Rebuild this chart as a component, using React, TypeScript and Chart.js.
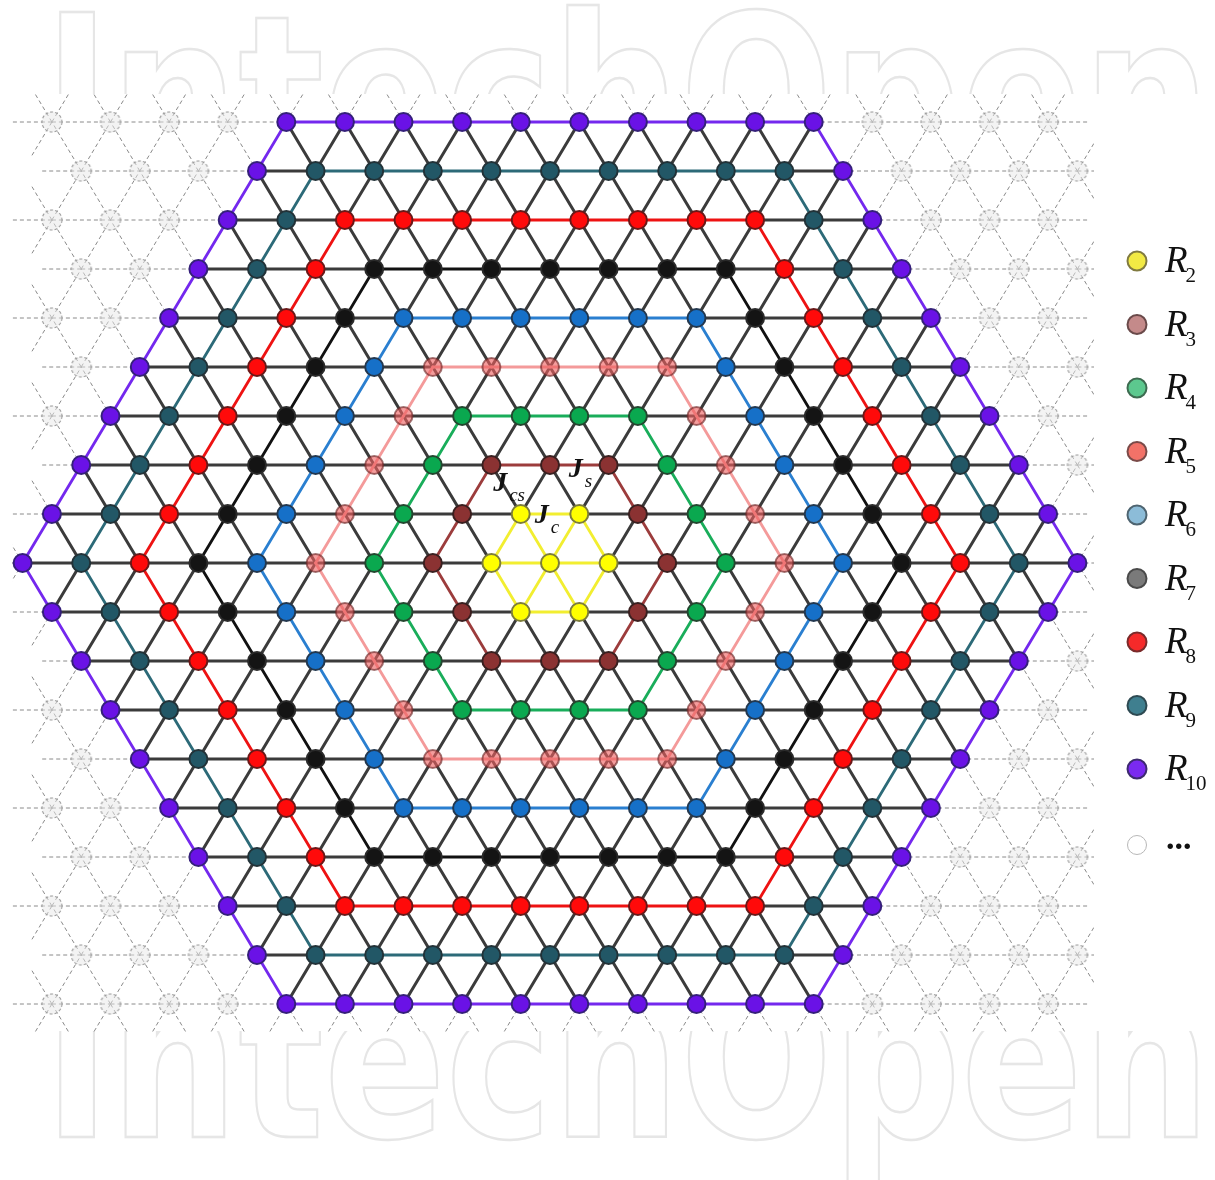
import React, { useEffect, useRef } from "react";
import { Chart, registerables } from "chart.js";

Chart.register(...registerables);

// ---- data ---------------------------------------------------------------
// rows of the triangular lattice (positive = up), centre row is 0
const rowIndices = [-9, -8, -7, -6, -5, -4, -3, -2, -1, 0, 1, 2, 3, 4, 5, 6, 7, 8, 9];
// hexagonal rings: R2 holds the centre node and hex-distance 1, R3 distance 2 ... R10 distance 9
const ringNames = ["R", "R", "R", "R", "R", "R", "R", "R", "R"];
const ringSubscripts = ["2", "3", "4", "5", "6", "7", "8", "9", "10"];
const ringDistances = [1, 2, 3, 4, 5, 6, 7, 8, 9];
const ringNodeColors = [
  "#ffff00", "#8b3232", "#0aa84f", "rgba(238,96,96,0.62)", "#1670c8",
  "#141414", "#ff0a0a", "#225766", "#6a12e6",
];
const ringNodeBorders = [
  "#7d7d3a", "#3a2020", "#23472f", "rgba(110,40,40,0.65)", "#23384f",
  "#2a2a2a", "#6a1818", "#223238", "#35207a",
];
const ringEdgeColors = [
  "#f2ee30", "#9c3c3c", "#19ad5a", "#f49a9a", "#2a7fd0",
  "#111111", "#ee1212", "#2c6a78", "#7428ee",
];
const legendFillColors = [
  "#f2ea44", "#c48a8a", "#5cc88e", "#f27268", "#8cbcd8",
  "#7a7a7a", "#f52a2a", "#3f7f8f", "#7a2af0",
];
const legendBorderColors = [
  "#807a40", "#6a4a4a", "#3d6b50", "#7a4a48", "#4e6470",
  "#4a4a4a", "#7a2a2a", "#2e4a52", "#3e2a70",
];
const outerRing = 9;
// horizontal extent (lattice units) of the grey background lattice
const backgroundLimits = [-8.6, 9.05];
// coupling labels: anchor in lattice units
const couplingLabels = [
  { main: "J", sub: "cs", x: -0.97, y: 1.47 },
  { main: "J", sub: "c", x: -0.26, y: 0.82 },
  { main: "J", sub: "s", x: 0.32, y: 1.76 },
];
const watermarkText = "IntechOpen";

// ---- lattice construction ---------------------------------------------
type Node = { i: number; j: number; u: number; dist: number; inHex: boolean };

function buildNodes(): Map<string, Node> {
  const map = new Map<string, Node>();
  for (const j of rowIndices) {
    for (let i = -25; i <= 25; i++) {
      const u = i + j / 2;
      const dist = (Math.abs(i) + Math.abs(j) + Math.abs(i + j)) / 2;
      const inHex = dist <= outerRing;
      const inBg = u >= backgroundLimits[0] && u <= backgroundLimits[1];
      if (inHex || inBg) map.set(i + "," + j, { i, j, u, dist, inHex });
    }
  }
  return map;
}

const groupOf = (n: Node) => Math.max(n.dist, 1);
// even index = "forward" direction (full edges drawn once), odd = its opposite
const DIRS = [
  [1, 0], [-1, 0], [0, 1], [0, -1], [-1, 1], [1, -1],
];

export default function App() {
  const ref = useRef<HTMLCanvasElement>(null);

  useEffect(() => {
    const canvas = ref.current;
    if (!canvas) return;
    const nodes = buildNodes();
    const list = Array.from(nodes.values());

    // grey dashed point style
    const greyImg = document.createElement("canvas");
    greyImg.width = 24;
    greyImg.height = 24;
    const g = greyImg.getContext("2d")!;
    g.fillStyle = "rgba(232,232,232,0.5)";
    g.beginPath();
    g.arc(12, 12, 10, 0, Math.PI * 2);
    g.fill();
    g.setLineDash([3, 2]);
    g.strokeStyle = "#9c9c9c";
    g.lineWidth = 1.1;
    g.stroke();

    const datasets: any[] = ringDistances.map((d, k) => ({
      label: ringNames[k] + ringSubscripts[k],
      data: list.filter((n) => n.inHex && groupOf(n) === d).map((n) => ({ x: n.u, y: n.j })),
      pointRadius: 9,
      pointHoverRadius: 9,
      pointBackgroundColor: ringNodeColors[k],
      pointBorderColor: ringNodeBorders[k],
      pointBorderWidth: 2,
      showLine: false,
      clip: false,
    }));
    datasets.push({
      label: "...",
      data: list.filter((n) => !n.inHex).map((n) => ({ x: n.u, y: n.j })),
      pointStyle: greyImg,
      pointRadius: 10,
      showLine: false,
      clip: false,
    });

    const latticePlugin = {
      id: "lattice",
      beforeDraw(chart: any) {
        const ctx = chart.ctx as CanvasRenderingContext2D;
        const W = chart.width;
        const H = chart.height;
        ctx.save();
        ctx.fillStyle = "#ffffff";
        ctx.fillRect(0, 0, W, H);
        // watermark
        ctx.font = "bold 220px 'DejaVu Sans'";
        ctx.textAlign = "left";
        ctx.textBaseline = "alphabetic";
        const m = ctx.measureText(watermarkText);
        const inkW = m.actualBoundingBoxLeft + m.actualBoundingBoxRight;
        const sx = (1197 - 60) / inkW;
        ctx.strokeStyle = "#e6e6e6";
        ctx.lineWidth = 2.5;
        for (const base of [172, 1137]) {
          ctx.save();
          ctx.translate(60, 0);
          ctx.scale(sx, 1);
          ctx.strokeText(watermarkText, m.actualBoundingBoxLeft, base);
          ctx.restore();
        }
        // figure band
        ctx.fillStyle = "#ffffff";
        ctx.fillRect(0, 94, W, 1031 - 94);
        ctx.restore();
      },
      beforeDatasetsDraw(chart: any) {
        const ctx = chart.ctx as CanvasRenderingContext2D;
        const xs = chart.scales.x;
        const ys = chart.scales.y;
        const px = (u: number) => xs.getPixelForValue(u);
        const py = (v: number) => ys.getPixelForValue(v);
        const dashed: number[][] = [];
        const inter: number[][] = [];
        const ring: { c: string; s: number[] }[] = [];
        for (const n of list) {
          for (let d = 0; d < 6; d++) {
            const [di, dj] = DIRS[d];
            const key = n.i + di + "," + (n.j + dj);
            const nb = nodes.get(key);
            const tu = n.u + di + dj / 2;
            const tv = n.j + dj;
            if (nb) {
              if (d % 2 === 1) continue; // draw each full edge once
              const seg = [px(n.u), py(n.j), px(nb.u), py(nb.j)];
              if (n.inHex && nb.inHex) {
                if (groupOf(n) === groupOf(nb)) {
                  ring.push({ c: ringEdgeColors[ringDistances.indexOf(groupOf(n))], s: seg });
                } else inter.push(seg);
              } else dashed.push(seg);
            } else {
              const f = 0.68;
              const x0 = px(n.u);
              const y0 = py(n.j);
              dashed.push([x0, y0, x0 + (px(tu) - x0) * f, y0 + (py(tv) - y0) * f]);
            }
          }
        }
        ctx.save();
        ctx.beginPath();
        ctx.rect(12, 94, 1094 - 12, 1032 - 94);
        ctx.clip();
        ctx.setLineDash([4, 3]);
        ctx.strokeStyle = "#8a8a8a";
        ctx.lineWidth = 1;
        ctx.beginPath();
        for (const s of dashed) {
          ctx.moveTo(s[0], s[1]);
          ctx.lineTo(s[2], s[3]);
        }
        ctx.stroke();
        ctx.restore();

        ctx.save();
        ctx.setLineDash([]);
        ctx.lineCap = "round";
        ctx.strokeStyle = "#3b3b3b";
        ctx.lineWidth = 3;
        ctx.beginPath();
        for (const s of inter) {
          ctx.moveTo(s[0], s[1]);
          ctx.lineTo(s[2], s[3]);
        }
        ctx.stroke();
        ctx.lineWidth = 2.8;
        for (const r of ring) {
          ctx.strokeStyle = r.c;
          ctx.beginPath();
          ctx.moveTo(r.s[0], r.s[1]);
          ctx.lineTo(r.s[2], r.s[3]);
          ctx.stroke();
        }
        ctx.restore();
      },
      afterDatasetsDraw(chart: any) {
        const ctx = chart.ctx as CanvasRenderingContext2D;
        const xs = chart.scales.x;
        const ys = chart.scales.y;
        ctx.save();
        ctx.fillStyle = "#111111";
        ctx.textAlign = "left";
        ctx.textBaseline = "alphabetic";
        for (const l of couplingLabels) {
          const x = xs.getPixelForValue(l.x);
          const y = ys.getPixelForValue(l.y);
          ctx.font = "bold italic 28px 'Liberation Serif'";
          ctx.fillText(l.main, x, y);
          const w = ctx.measureText(l.main).width;
          ctx.font = "italic 19px 'Liberation Serif'";
          ctx.fillText(l.sub, x + w + 2, y + 10);
        }
        // legend
        const lx = 1137;
        for (let k = 0; k < ringNames.length; k++) {
          const ly = 261 + k * 63.5;
          ctx.beginPath();
          ctx.arc(lx, ly, 9.5, 0, Math.PI * 2);
          ctx.fillStyle = legendFillColors[k];
          ctx.fill();
          ctx.lineWidth = 2;
          ctx.strokeStyle = legendBorderColors[k];
          ctx.stroke();
          ctx.fillStyle = "#111111";
          ctx.font = "italic 37px 'Liberation Serif'";
          ctx.fillText(ringNames[k], 1165, ly + 11);
          const w = ctx.measureText(ringNames[k]).width;
          ctx.font = "21px 'Liberation Serif'";
          ctx.fillText(ringSubscripts[k], 1165 + w - 2, ly + 21);
        }
        const dy = 845;
        ctx.beginPath();
        ctx.arc(lx, dy, 9.5, 0, Math.PI * 2);
        ctx.fillStyle = "#ffffff";
        ctx.fill();
        ctx.lineWidth = 1;
        ctx.strokeStyle = "#b8b8b8";
        ctx.stroke();
        ctx.fillStyle = "#111111";
        ctx.font = "bold 34px 'Liberation Serif'";
        ctx.fillText("...", 1166, dy + 4);
        ctx.restore();
      },
    };

    const dxPx = 58.6;
    const dyPx = 49;
    const cx = 550;
    const cy = 563;
    const chart = new Chart(canvas, {
      type: "scatter",
      data: { datasets },
      options: {
        responsive: false,
        animation: false,
        devicePixelRatio: 1,
        events: [],
        layout: { padding: 0, autoPadding: false },
        scales: {
          x: { type: "linear", min: -cx / dxPx, max: (1215 - cx) / dxPx, display: false },
          y: { type: "linear", min: -(1180 - cy) / dyPx, max: cy / dyPx, display: false },
        },
        plugins: { legend: { display: false }, tooltip: { enabled: false } },
      },
      plugins: [latticePlugin],
    } as any);
    return () => chart.destroy();
  }, []);

  return (
    <canvas
      ref={ref}
      width={1215}
      height={1180}
      style={{ position: "fixed", left: 0, top: 0, width: 1215, height: 1180 }}
    />
  );
}
